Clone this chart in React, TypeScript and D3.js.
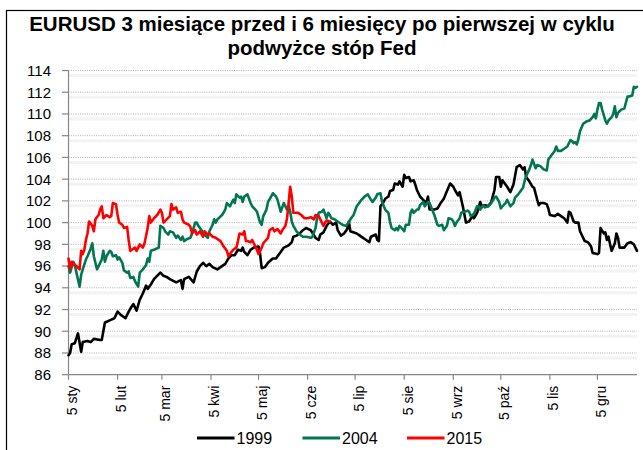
import React from 'react';
import * as d3 from 'd3';

// days counted from 5 Jan, EURUSD rebased to 100 at the first Fed hike
const days1999 = [0, 1, 2, 4, 6, 8, 9, 12, 14, 16, 20, 21, 23, 26, 29, 31, 33, 36, 38, 40, 41, 43, 45, 47, 49, 50, 52, 54, 58, 60, 62, 64, 68, 71, 72, 73, 76, 79, 81, 83, 85, 87, 89, 91, 94, 96, 99, 101, 103, 105, 107, 109, 110, 111, 113, 115, 117, 120, 121, 122, 124, 126, 129, 131, 134, 136, 139, 141, 142, 144, 146, 148, 150, 153, 156, 158, 159, 161, 163, 165, 167, 169, 170, 172, 174, 176, 177, 178, 182, 184, 186, 188, 190, 191, 194, 195, 196, 197, 199, 200, 202, 203, 205, 206, 208, 209, 211, 212, 213, 215, 216, 218, 219, 220, 222, 224, 226, 227, 228, 231, 233, 235, 237, 239, 241, 243, 244, 246, 247, 249, 251, 253, 255, 256, 258, 260, 261, 263, 265, 267, 269, 270, 272, 273, 274, 277, 279, 281, 282, 283, 285, 287, 288, 289, 291, 293, 294, 296, 297, 298, 300, 302, 303, 304, 307, 309, 311, 313, 315, 316, 317, 319, 320, 322, 323, 324, 326, 328, 329, 330, 331, 334, 335, 336, 338, 339, 340, 341, 342, 343, 345, 346, 347, 348, 351, 353, 355, 357, 359];
const vals1999 = [87.8, 88.0, 88.8, 88.9, 89.8, 88.1, 89.0, 89.1, 89.0, 89.3, 89.2, 89.2, 90.8, 91.0, 91.2, 91.8, 91.5, 91.2, 91.8, 92.3, 92.5, 91.9, 92.9, 93.5, 94.2, 93.9, 94.3, 94.8, 95.4, 95.1, 95.0, 94.8, 94.5, 94.7, 93.9, 94.8, 95.0, 94.5, 95.5, 96.0, 96.3, 96.0, 96.2, 95.9, 95.7, 95.9, 96.2, 96.7, 97.0, 97.0, 97.5, 97.4, 97.7, 97.3, 97.0, 97.5, 97.7, 97.8, 97.1, 95.8, 95.9, 96.3, 96.7, 96.7, 97.3, 97.7, 97.9, 98.2, 98.7, 98.8, 99.0, 99.3, 99.5, 99.3, 98.6, 98.4, 98.9, 99.1, 99.7, 100.1, 99.8, 100.0, 99.3, 98.8, 99.0, 99.4, 100.1, 99.2, 99.0, 98.8, 98.6, 98.4, 98.2, 98.7, 98.9, 98.4, 98.3, 101.5, 101.9, 102.2, 102.4, 102.9, 103.0, 103.6, 103.5, 103.8, 103.3, 104.4, 104.1, 104.2, 103.8, 103.9, 103.5, 103.0, 102.4, 102.1, 101.8, 102.4, 101.2, 101.2, 101.3, 101.8, 102.2, 102.9, 103.6, 103.3, 103.0, 102.5, 102.8, 101.5, 100.0, 100.1, 100.6, 100.4, 100.9, 101.9, 101.5, 101.6, 101.5, 101.9, 103.0, 104.2, 104.2, 103.3, 103.9, 103.3, 102.8, 103.5, 104.3, 105.1, 105.3, 104.9, 105.1, 104.2, 103.8, 103.3, 103.2, 102.1, 101.6, 101.8, 101.8, 101.7, 101.3, 100.7, 100.6, 100.8, 100.6, 100.4, 100.0, 101.0, 100.9, 100.1, 100.0, 100.0, 99.2, 98.9, 98.3, 98.2, 98.0, 97.8, 97.2, 97.1, 97.2, 99.5, 99.0, 99.1, 98.4, 98.7, 98.0, 97.4, 98.1, 99.0, 98.6, 97.7, 97.7, 98.1, 98.2, 98.0, 97.4];

const days2004 = [0, 1, 3, 4, 5, 7, 8, 9, 11, 12, 14, 15, 16, 18, 19, 21, 22, 23, 24, 26, 27, 28, 30, 31, 32, 34, 35, 37, 38, 39, 41, 42, 44, 45, 47, 49, 50, 51, 52, 54, 57, 58, 60, 61, 63, 64, 66, 68, 69, 71, 72, 73, 75, 77, 78, 80, 81, 82, 84, 86, 88, 89, 91, 92, 93, 94, 97, 99, 100, 102, 104, 105, 106, 108, 109, 110, 111, 113, 115, 116, 118, 119, 121, 122, 123, 125, 126, 128, 129, 131, 132, 134, 135, 136, 138, 139, 140, 141, 142, 144, 146, 148, 150, 153, 154, 156, 157, 158, 160, 161, 163, 164, 165, 166, 168, 170, 173, 175, 177, 178, 180, 182, 184, 185, 187, 189, 191, 192, 194, 195, 197, 198, 200, 202, 203, 204, 206, 207, 208, 209, 211, 212, 213, 215, 216, 217, 218, 220, 221, 222, 224, 225, 227, 228, 231, 233, 234, 236, 237, 239, 240, 242, 243, 244, 245, 247, 248, 250, 252, 253, 254, 256, 258, 259, 260, 262, 263, 265, 267, 269, 270, 272, 273, 274, 276, 277, 279, 281, 282, 284, 287, 288, 289, 291, 292, 293, 295, 296, 298, 300, 302, 303, 305, 307, 308, 309, 311, 313, 315, 317, 318, 319, 320, 321, 322, 323, 325, 327, 329, 331, 332, 333, 334, 335, 336, 337, 339, 340, 341, 343, 344, 345, 346, 347, 349, 351, 353, 354, 356, 357, 358, 359];
const vals2004 = [96.0, 95.4, 96.4, 96.1, 95.4, 94.1, 95.2, 95.7, 96.6, 96.9, 97.6, 98.1, 96.9, 95.7, 96.0, 96.6, 97.4, 96.4, 96.9, 97.4, 97.3, 96.9, 97.0, 96.6, 96.8, 96.3, 95.6, 95.4, 95.5, 94.9, 95.0, 94.6, 94.1, 95.4, 95.7, 96.1, 96.7, 96.4, 97.4, 97.5, 97.7, 99.7, 99.5, 99.2, 98.9, 99.2, 99.1, 98.6, 98.8, 98.4, 98.7, 98.3, 98.5, 98.6, 99.0, 100.0, 100.0, 99.7, 99.3, 98.9, 98.6, 99.2, 99.8, 100.3, 100.0, 100.3, 100.7, 101.2, 101.8, 101.5, 102.1, 101.8, 102.6, 102.3, 102.4, 101.9, 102.4, 102.6, 101.8, 101.5, 101.2, 101.0, 100.0, 99.8, 100.6, 101.2, 101.9, 102.4, 102.7, 102.4, 102.1, 101.0, 101.4, 101.8, 101.2, 101.6, 101.0, 100.1, 99.7, 99.2, 98.9, 98.7, 98.7, 98.6, 98.7, 99.5, 100.4, 100.9, 101.0, 101.2, 100.4, 100.9, 100.7, 100.4, 100.3, 100.1, 99.8, 99.7, 100.0, 100.3, 100.7, 101.5, 101.9, 102.1, 102.4, 102.6, 102.1, 101.9, 102.3, 102.6, 102.7, 101.9, 101.2, 100.9, 100.1, 99.5, 99.3, 99.5, 99.3, 99.7, 99.4, 99.2, 99.8, 99.8, 100.9, 101.2, 100.9, 101.2, 101.2, 101.6, 101.9, 101.5, 101.9, 101.8, 100.7, 99.8, 99.7, 99.8, 99.3, 99.7, 100.4, 100.3, 100.1, 99.7, 100.0, 100.4, 100.9, 101.0, 101.1, 101.0, 100.6, 100.8, 101.5, 101.5, 101.2, 101.6, 101.4, 101.5, 101.8, 102.3, 102.4, 101.9, 101.3, 101.5, 101.8, 102.1, 101.5, 101.8, 102.3, 102.6, 103.2, 103.8, 104.3, 104.9, 105.3, 105.8, 105.0, 105.3, 105.2, 104.9, 104.8, 105.8, 106.2, 106.6, 107.0, 106.6, 106.6, 106.8, 107.0, 107.6, 107.5, 107.3, 107.4, 107.2, 107.7, 108.4, 109.1, 109.3, 109.4, 109.7, 110.0, 109.6, 110.4, 111.0, 111.0, 110.4, 109.4, 109.1, 109.4, 109.7, 110.0, 110.7, 109.7, 110.1, 110.4, 110.5, 111.6, 111.6, 111.7, 112.5, 112.4, 112.5];

const days2015 = [0, 1, 2, 4, 5, 7, 8, 9, 10, 11, 12, 13, 15, 16, 17, 19, 20, 21, 22, 24, 26, 27, 28, 30, 31, 32, 34, 35, 37, 38, 39, 40, 42, 43, 45, 47, 48, 50, 51, 52, 54, 56, 58, 59, 60, 62, 64, 65, 66, 68, 69, 71, 72, 73, 76, 77, 78, 80, 81, 83, 85, 86, 88, 89, 91, 93, 96, 98, 100, 101, 102, 104, 106, 107, 108, 110, 111, 112, 113, 115, 116, 118, 119, 120, 122, 123, 126, 127, 129, 130, 132, 134, 135, 137, 138, 139, 140, 141, 142, 144, 145, 147, 149, 151, 153, 155, 156, 158, 159, 161, 162, 163, 165];
const vals2015 = [96.7, 95.7, 96.4, 96.1, 96.0, 95.7, 97.4, 97.1, 97.5, 98.4, 99.0, 100.1, 99.7, 99.2, 100.3, 100.7, 101.2, 101.5, 100.4, 100.7, 100.5, 100.6, 101.8, 101.7, 100.7, 100.0, 99.8, 99.5, 99.6, 98.4, 97.4, 97.5, 97.7, 97.4, 98.0, 97.7, 98.1, 99.5, 100.6, 100.0, 100.4, 100.7, 101.2, 100.9, 100.0, 100.3, 100.6, 101.7, 101.2, 101.4, 100.9, 101.0, 100.3, 100.0, 99.8, 99.6, 99.0, 99.3, 98.9, 99.2, 98.7, 99.2, 98.9, 99.0, 98.7, 98.6, 98.3, 97.8, 97.4, 96.9, 97.1, 97.5, 97.7, 98.3, 99.0, 98.9, 99.2, 98.3, 98.3, 98.2, 98.4, 97.8, 97.5, 97.1, 97.7, 98.1, 98.6, 99.3, 99.5, 99.2, 99.4, 99.0, 99.3, 99.7, 100.4, 101.8, 103.3, 102.4, 100.9, 100.9, 100.9, 100.7, 100.4, 100.4, 100.5, 100.3, 100.7, 100.6, 100.3, 99.7, 100.0, 100.2, 100.1];

const yTicks = [86, 88, 90, 92, 94, 96, 98, 100, 102, 104, 106, 108, 110, 112, 114];
const monthLabels = ['5 sty', '5 lut', '5 mar', '5 kwi', '5 maj', '5 cze', '5 lip', '5 sie', '5 wrz', '5 paź', '5 lis', '5 gru'];
const seriesNames = ['1999', '2004', '2015'];
const titleLines = ['EURUSD 3 miesiące przed i 6 miesięcy po pierwszej w cyklu', 'podwyżce stóp Fed'];

const colors: Record<string, string> = { '1999': '#000000', '2004': '#017652', '2015': '#ff0000' };
const font = '"Liberation Sans", Arial, sans-serif';

const App = () => {
  const width = 643;
  const height = 450;
  const left = 68.5;
  const right = 637;
  const top = 70.5;
  const bottom = 374.7;

  const start = new Date(2015, 0, 5);
  const end = new Date(2015, 11, 30);
  const x = d3.scaleTime().domain([start, end]).range([left, right]);
  const y = d3.scaleLinear().domain([86, 114]).range([bottom, top]);

  const toDate = (d: number) => d3.timeDay.offset(start, d);
  const line = d3
    .line<[number, number]>()
    .x((d) => x(toDate(d[0])))
    .y((d) => y(d[1]));

  const series = [
    { name: '1999', pts: days1999.map((d, i) => [d, vals1999[i]] as [number, number]) },
    { name: '2004', pts: days2004.map((d, i) => [d, vals2004[i]] as [number, number]) },
    { name: '2015', pts: days2015.map((d, i) => [d, vals2015[i]] as [number, number]) },
  ];

  const monthTicks = monthLabels.map((lab, i) => ({ lab, date: new Date(2015, i, 5) }));
  const axisColor = '#878787';

  const legendX = [197, 302.5, 407];

  return (
    <svg width={width} height={height} style={{ position: 'absolute', left: 0, top: 0, background: '#fff' }}>
      <rect x={6.5} y={10.5} width={700} height={500} fill="#fff" stroke="#000" strokeWidth={1.2} />

      {titleLines.map((t, i) => (
        <text key={t} x={322} y={31 + i * 23.5} textAnchor="middle" fontFamily={font} fontWeight="bold" fontSize={20.5} fill="#000">
          {t}
        </text>
      ))}

      {/* grid */}
      {yTicks.filter((v) => v > 86).map((v) => (
        <g key={v}>
          <line x1={left} x2={right} y1={y(v) + 5} y2={y(v) + 5} stroke="#f3f3f3" strokeWidth={3} />
          <line x1={left} x2={right} y1={y(v)} y2={y(v)} stroke="#a8a8a8" strokeWidth={0.9} strokeDasharray="1,1.3" />
        </g>
      ))}

      {/* y axis */}
      <line x1={left} x2={left} y1={top} y2={bottom} stroke={axisColor} strokeWidth={1.2} />
      {yTicks.map((v) => (
        <g key={v}>
          <line x1={left - 6.5} x2={left} y1={y(v)} y2={y(v)} stroke={axisColor} strokeWidth={1.2} />
          <text x={51} y={y(v)} dy="0.36em" textAnchor="end" fontFamily={font} fontSize={15} fill="#000">
            {v}
          </text>
        </g>
      ))}

      {/* x axis */}
      <line x1={left} x2={right} y1={bottom} y2={bottom} stroke={axisColor} strokeWidth={1.2} />
      {monthTicks.map((m) => (
        <g key={m.lab}>
          <line x1={x(m.date)} x2={x(m.date)} y1={bottom} y2={bottom + 5} stroke={axisColor} strokeWidth={1.2} />
          <text
            transform={`translate(${x(m.date) + 3.5},${bottom + 11}) rotate(-90)`}
            dy="0.35em"
            textAnchor="end"
            fontFamily={font}
            fontSize={14}
            fill="#000"
          >
            {m.lab}
          </text>
        </g>
      ))}

      {/* series */}
      {series.map((s) => (
        <path
          key={s.name}
          d={line(s.pts) ?? ''}
          fill="none"
          stroke={colors[s.name]}
          strokeWidth={2.6}
          strokeLinejoin="round"
          strokeLinecap="round"
        />
      ))}

      {/* legend */}
      {seriesNames.map((n, i) => (
        <g key={n}>
          <line x1={legendX[i]} x2={legendX[i] + 37.5} y1={438} y2={438} stroke={colors[n]} strokeWidth={3} />
          <text x={legendX[i] + 39.5} y={438} dy="0.36em" fontFamily={font} fontSize={16} fill="#000">
            {n}
          </text>
        </g>
      ))}
    </svg>
  );
};

export default App;
